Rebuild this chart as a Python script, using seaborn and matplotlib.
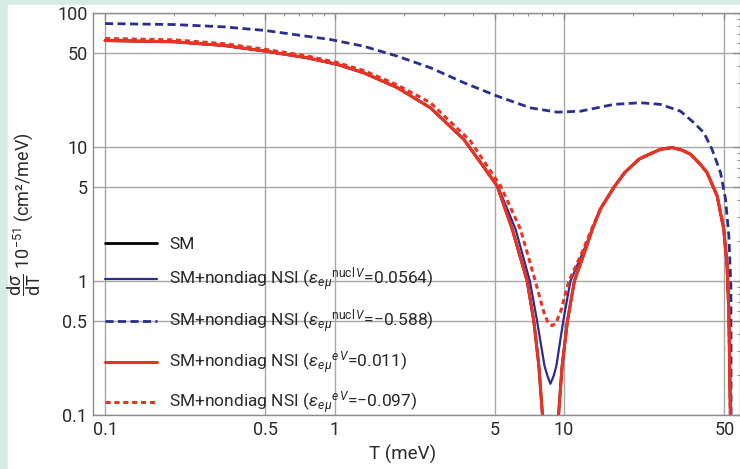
import numpy as np
import pandas as pd
import seaborn as sns
import matplotlib.pyplot as plt
from matplotlib.ticker import FixedLocator, FixedFormatter, NullFormatter

# Values (T in meV, dsigma/dT in 1e-51 cm^2/meV)
t_sm = [0.1, 0.2, 0.33, 0.5, 0.76, 1.03, 1.34, 1.88, 2.62, 3.66, 4.33, 5.12, 5.95, 6.91,
        7.39, 7.77, 8.04, 8.75, 9.49, 9.82, 10.35, 11.1, 12.3, 13.3, 14.4, 16.5, 18.4, 21.2,
        23.0, 26.3, 29.6, 32.6, 35.6, 39.3, 42.0, 46.5, 49.7, 51.4, 52.3, 53.1, 53.3]
sm = [62.3, 61, 57.2, 51.9, 46.3, 41.3, 35.8, 27.7, 19.6, 11.4, 7.65, 5.1, 2.44, 1.0,
      0.5, 0.234, 0.105, 0.01, 0.105, 0.234, 0.5, 1.0, 1.64, 2.44, 3.44, 5.0, 6.45, 8.1,
      8.67, 9.6, 9.9, 9.5, 8.83, 7.43, 6.45, 4.32, 2.44, 1.3, 0.585, 0.105, 0.01]

# eps^{nucl V} = 0.0564
t_nucl_pos = [0.1, 0.2, 0.33, 0.5, 0.76, 1.03, 1.34, 1.88, 2.62, 3.66, 4.33, 5.15, 6.15,
              7.1, 7.64, 8.22, 8.46, 8.73, 9.03, 9.27, 9.92, 10.67, 12.1, 13.3, 14.4, 16.5,
              18.4, 21.2, 23.0, 26.3, 29.6, 32.6, 35.6, 39.3, 42.0, 46.5, 49.7, 51.4, 52.3,
              53.1, 53.3]
nucl_pos = [62.3, 61, 57.2, 51.9, 46.3, 41.3, 35.8, 27.7, 19.6, 11.4, 7.65, 5.1, 2.44,
            1.0, 0.5, 0.234, 0.197, 0.171, 0.197, 0.234, 0.5, 1.0, 1.64, 2.44, 3.44, 5.0,
            6.45, 8.1, 8.67, 9.6, 9.9, 9.5, 8.83, 7.43, 6.45, 4.32, 2.44, 1.3, 0.585,
            0.105, 0.01]

# eps^{nucl V} = -0.588
t_nucl_neg = [0.1, 0.2, 0.33, 0.5, 0.96, 1.34, 1.88, 2.62, 3.66, 5.11, 7.14, 9.33, 11.8,
              16.5, 21.5, 26.3, 32.2, 36.8, 40.7, 44.2, 48.1, 50.6, 52.3, 53.4, 53.6]
nucl_neg = [83.4, 82, 78.8, 74, 63.4, 56.5, 47.6, 39.0, 30.2, 24.0, 19.6, 18.2, 18.5,
            20.8, 21.4, 20.8, 18.5, 15.2, 12.8, 9.6, 6.45, 4.08, 2.17, 0.9, 0.01]

# eps^{e V} = 0.011 (sits on top of SM)
t_ev_pos = t_sm
ev_pos = sm

# eps^{e V} = -0.097
t_ev_neg = [0.1, 0.2, 0.33, 0.5, 0.76, 1.03, 1.34, 1.88, 2.62, 3.91, 5.3, 6.46, 7.5, 8.17,
            8.56, 8.87, 9.18, 9.66, 10.5, 12.0, 13.2, 14.4, 16.5, 18.4, 21.2, 23.0, 26.3,
            29.6, 32.6, 35.6, 39.3, 42.0, 46.5, 49.7, 51.4, 52.3, 53.1, 53.3]
ev_neg = [64.5, 63, 59, 53.5, 47.8, 42.6, 37.2, 29.0, 21.4, 11.1, 5.1, 2.44, 1.0, 0.585,
          0.48, 0.465, 0.48, 0.585, 1.0, 1.64, 2.44, 3.44, 5.0, 6.45, 8.1, 8.67, 9.6,
          9.9, 9.5, 8.83, 7.43, 6.45, 4.32, 2.44, 1.3, 0.585, 0.105, 0.01]

x_major = [0.1, 0.5, 1, 5, 10, 50]
x_labels = ["0.1", "0.5", "1", "5", "10", "50"]
y_major = [0.1, 0.5, 1, 5, 10, 50, 100]
y_labels = ["0.1", "0.5", "1", "5", "10", "50", "100"]

sns.set_theme(style="white")
plt.rcParams["font.family"] = ["Roboto", "DejaVu Sans"]
plt.rcParams["mathtext.fontset"] = "custom"
plt.rcParams["mathtext.rm"] = "Roboto"
plt.rcParams["mathtext.it"] = "Roboto:italic"
plt.rcParams["mathtext.bf"] = "Roboto:bold"

blue = "#2b2e8f"
red = "#ea3323"
grey = "#8c8c8c"
txt = "#2a2a2a"

fig = plt.figure(figsize=(7.4, 4.69), dpi=100, facecolor="#d3ede6")
fig.add_artist(plt.Rectangle((8 / 740, 0), 1, 1 - 5 / 469, transform=fig.transFigure,
                             color="white", zorder=-10))
ax = fig.add_axes([93 / 740, 1 - 415 / 469, 1 - 93 / 740, (415 - 13) / 469])

lbl_nucl = r"$\varepsilon_{e\mu}{}^{\mathrm{nucl}\,V}$"
lbl_e = r"$\varepsilon_{e\mu}{}^{e\,V}$"

sns.lineplot(x=t_sm, y=sm, ax=ax, color="black", lw=2, label="SM", sort=False)
sns.lineplot(x=t_nucl_pos, y=nucl_pos, ax=ax, color=blue, lw=1.6, sort=False,
             label="SM+nondiag NSI (" + lbl_nucl + "=0.0564)")
sns.lineplot(x=t_nucl_neg, y=nucl_neg, ax=ax, color=blue, lw=2, sort=False,
             linestyle=(0, (2.9, 1.6)),
             label="SM+nondiag NSI (" + lbl_nucl + "=\u22120.588)")
sns.lineplot(x=t_ev_pos, y=ev_pos, ax=ax, color=red, lw=2.2, sort=False,
             label="SM+nondiag NSI (" + lbl_e + "=0.011)")
sns.lineplot(x=t_ev_neg, y=ev_neg, ax=ax, color=red, lw=2.2, sort=False,
             linestyle=(0, (1.7, 1.2)),
             label="SM+nondiag NSI (" + lbl_e + "=\u22120.097)")

ax.set_xscale("log")
ax.set_yscale("log")
ax.set_xlim(0.0886, 58.5)
ax.set_ylim(0.1, 100)

ax.xaxis.set_major_locator(FixedLocator(x_major))
ax.xaxis.set_major_formatter(FixedFormatter(x_labels))
ax.yaxis.set_major_locator(FixedLocator(y_major))
ax.yaxis.set_major_formatter(FixedFormatter(y_labels))
x_minor = [m * d for d in (0.1, 1, 10) for m in range(2, 10) if m * d < 58 and m != 5]
y_minor = [m * d for d in (0.1, 1, 10) for m in range(2, 10) if m != 5]
ax.xaxis.set_minor_locator(FixedLocator(x_minor))
ax.yaxis.set_minor_locator(FixedLocator(y_minor))
ax.xaxis.set_minor_formatter(NullFormatter())
ax.yaxis.set_minor_formatter(NullFormatter())

ax.tick_params(which="both", direction="in", top=True, right=True, color=grey,
               labelsize=13, labelcolor=txt)
ax.tick_params(which="major", length=5, width=0.9, pad=4)
ax.tick_params(which="minor", length=2.5, width=0.7)
for s in ax.spines.values():
    s.set_color(grey)
    s.set_linewidth(1)

ax.grid(True, which="major", color="#a8a8a8", lw=1)
ax.set_axisbelow(True)

ax.set_xlabel("T (meV)", fontsize=13.5, color=txt)
ax.xaxis.set_label_coords(0.478, -0.075)
ax.set_ylabel(r"$\dfrac{\mathrm{d}\sigma}{\mathrm{dT}}$ $10^{-51}$ (cm²/meV)",
              fontsize=13, color=txt)
ax.yaxis.set_label_coords(-0.078, 0.5)

ax.legend(loc="center left", bbox_to_anchor=(0.0185, 0.22), frameon=False,
          fontsize=12.5, handlelength=3.0, handletextpad=0.7, labelspacing=0.78,
          borderpad=0, borderaxespad=0, labelcolor=txt)

fig.savefig("out.png", dpi=100, facecolor=fig.get_facecolor())
